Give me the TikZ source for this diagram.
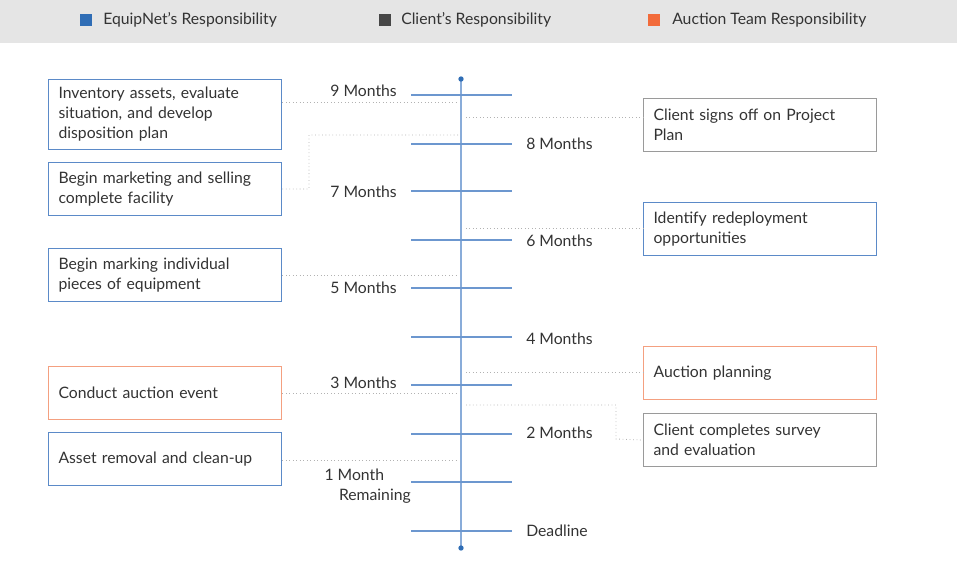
\documentclass[tikz,border=0pt]{standalone}
\usepackage{fontspec}
\setmainfont{Lato}
\begin{document}
\begin{tikzpicture}[x=0.75pt,y=-0.75pt,
  txt/.style={text=textc,font=\fontsize{11.8}{15}\selectfont,inner sep=0pt},
  box/.style={draw,line width=0.8pt,minimum width=175pt,minimum height=39.75pt,anchor=north west,text width=160pt,align=left,inner xsep=7.5pt,txt},
  conn/.style={draw=gray!60,dotted,line width=0.6pt},
  tick/.style={draw=tickc,line width=0.9pt}]
\definecolor{textc}{HTML}{333333}
\definecolor{bl}{HTML}{2F6DB5}
\definecolor{boxbl}{HTML}{5B8AC8}
\definecolor{tickc}{HTML}{6C97CF}
\definecolor{org}{HTML}{F4A080}
\definecolor{orgsq}{HTML}{F26B3A}
\definecolor{gr}{HTML}{9A9A9A}
\useasboundingbox (0,0) rectangle (957,578);
\fill[gray!20] (0,0) rectangle (957,43);
\fill[bl] (80,14) rectangle (92,26);
\node[txt,anchor=west] (l1) at (103,20) {EquipNet’s Responsibility};
\fill[textc!90] (379,14) rectangle (391,26);
\node[txt,anchor=west] (l2) at (401,20) {Client’s Responsibility};
\fill[orgsq] (648,14) rectangle (660,26);
\node[txt,anchor=west] (l3) at (672,20) {Auction Team Responsibility};
% axis
\coordinate (top) at (461,79); \coordinate (bot) at (461,548);
\draw[draw=tickc!80,line width=0.9pt] (top) -- (bot);
\fill[bl] (top) circle (2pt); \fill[bl] (bot) circle (2pt);
\foreach \y in {95,144,191,240,288,337,385,434,482,531} \draw[tick] (411,\y) -- (512,\y);
\node[txt,anchor=east] (m9) at (397,91) {9 Months};
\node[txt,anchor=east] (m7) at (397,192) {7 Months};
\node[txt,anchor=east] (m5) at (397,288) {5 Months};
\node[txt,anchor=east] (m3) at (397,383) {3 Months};
\node[txt,anchor=east,align=right] (m1) at (411,486) {1 Month\hspace*{20pt}\\Remaining};
\node[txt,anchor=west] (m8) at (526,144) {8 Months};
\node[txt,anchor=west] (m6) at (526,241) {6 Months};
\node[txt,anchor=west] (m4) at (526,339) {4 Months};
\node[txt,anchor=west] (m2) at (526,433) {2 Months};
\node[txt,anchor=west] (dl) at (526,531) {Deadline};
% left boxes
\node[box,draw=boxbl,minimum height=52.5pt] (b1) at (48,79) {Inventory assets, evaluate\\situation, and develop\\disposition plan};
\node[box,draw=boxbl] (b2) at (48,162) {Begin marketing and selling\\complete facility};
\node[box,draw=boxbl] (b3) at (48,248) {Begin marking individual\\pieces of equipment};
\node[box,draw=org] (b4) at (48,366) {Conduct auction event};
\node[box,draw=boxbl] (b5) at (48,432) {Asset removal and clean-up};
% right boxes
\node[box,draw=gr] (r1) at (643,98) {Client signs off on Project Plan};
\node[box,draw=boxbl] (r2) at (643,202) {Identify redeployment\\opportunities};
\node[box,draw=org] (r3) at (643,346) {Auction planning};
\node[box,draw=gr] (r4) at (643,413) {Client completes survey\\and evaluation};
% connectors
\coordinate (c1) at (458,102); \coordinate (c2) at (458,135);
\coordinate (c3) at (458,275); \coordinate (c4) at (458,393); \coordinate (c5) at (458,460);
\coordinate (d1) at (466,117); \coordinate (d2) at (466,228); \coordinate (d3) at (466,372); \coordinate (d4) at (466,405);
\draw[conn] (b1.east |- c1) -- (c1);
\draw[conn] (b2.east) -- (309,189) -- (309,135) -- (c2);
\draw[conn] (b3.east |- c3) -- (c3);
\draw[conn] (b4.east |- c4) -- (c4);
\draw[conn] (b5.east |- c5) -- (c5);
\draw[conn] (d1) -- (r1.west |- d1);
\draw[conn] (d2) -- (r2.west |- d2);
\draw[conn] (d3) -- (r3.west |- d3);
\draw[conn] (d4) -- (616,405) -- (616,439) -- (r4.west);
\end{tikzpicture}
\end{document}
